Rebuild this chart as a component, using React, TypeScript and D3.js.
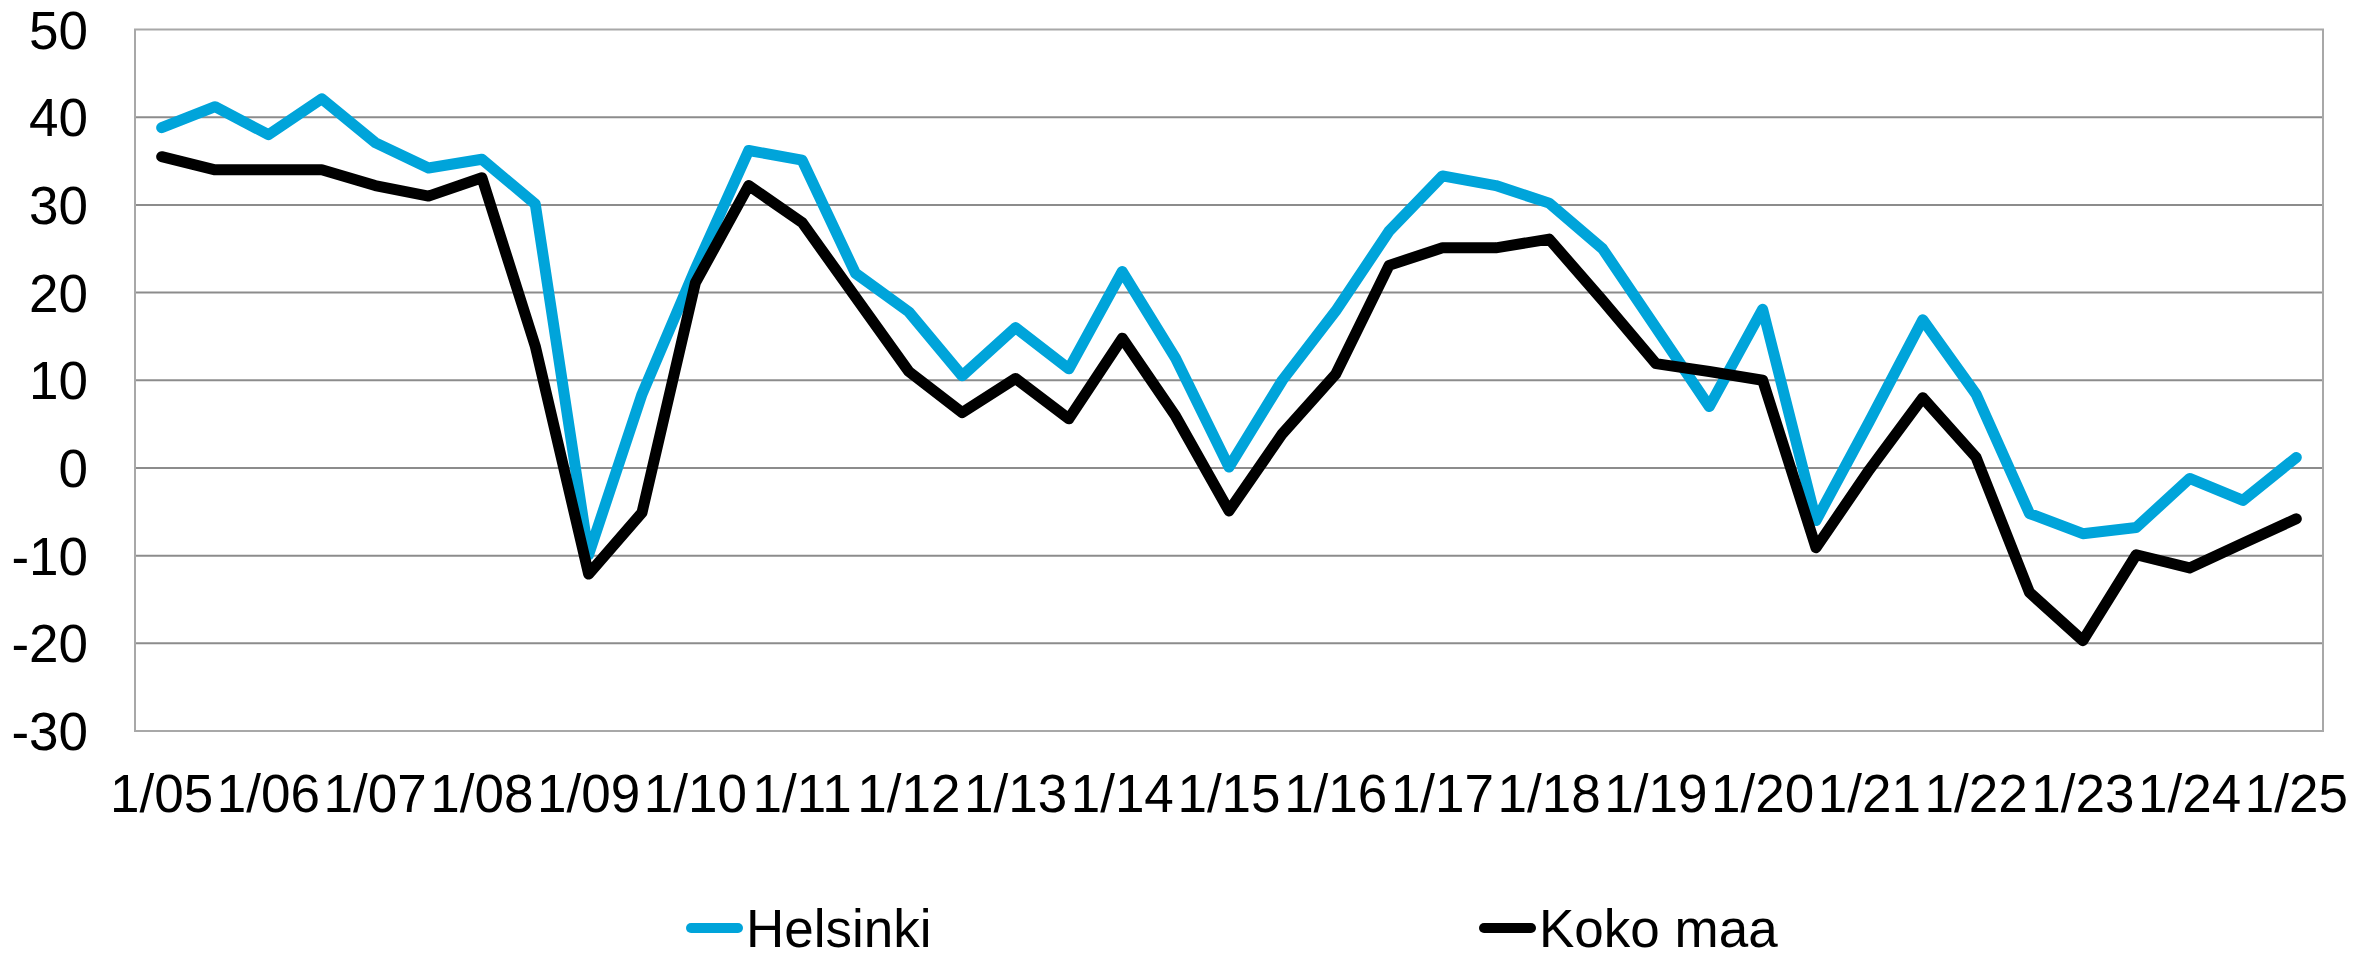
import * as d3 from 'd3'

const periods = [
  '1/05', '7/05', '1/06', '7/06', '1/07', '7/07', '1/08', '7/08', '1/09', '7/09',
  '1/10', '7/10', '1/11', '7/11', '1/12', '7/12', '1/13', '7/13', '1/14', '7/14',
  '1/15', '7/15', '1/16', '7/16', '1/17', '7/17', '1/18', '7/18', '1/19', '7/19',
  '1/20', '7/20', '1/21', '7/21', '1/22', '7/22', '1/23', '7/23', '1/24', '7/24',
  '1/25',
]

const helsinki = [
  38.8, 41.2, 38.0, 42.1, 37.1, 34.2, 35.2, 30.1, -9.9, 8.4,
  22.7, 36.2, 35.1, 22.2, 17.8, 10.5, 16.0, 11.3, 22.4, 12.5,
  0.1, 10.0, 17.9, 27.0, 33.3, 32.2, 30.2, 25.0, 16.0, 7.0,
  18.1, -6.0, 5.3, 16.9, 8.4, -5.2, -7.5, -6.8, -1.2, -3.7,
  1.2,
]

const kokoMaa = [
  35.5, 34.0, 34.0, 34.0, 32.2, 31.0, 33.1, 13.9, -12.1, -5.1,
  21.1, 32.2, 28.0, 19.5, 11.0, 6.3, 10.2, 5.6, 14.8, 5.9,
  -4.9, 3.9, 10.7, 23.1, 25.1, 25.1, 26.1, 19.1, 11.9, 11.0,
  10.0, -9.1, -0.2, 8.0, 1.2, -14.2, -19.7, -9.9, -11.4, -8.6,
  -5.8,
]

const tickLabels = periods.filter((p) => p.startsWith('1/'))
const yTicks = [-30, -20, -10, 0, 10, 20, 30, 40, 50]

const series = [
  { name: 'Helsinki', values: helsinki, color: '#00a4da' },
  { name: 'Koko maa', values: kokoMaa, color: '#000000' },
]

const W = 2379
const H = 954
const FONT = '"Liberation Sans", Arial, sans-serif'

export default function App() {
  const left = 135
  const right = 2323
  const top = 29.5
  const bottom = 731

  const x = d3.scalePoint<string>().domain(periods).range([left, right]).padding(0.5)
  const y = d3.scaleLinear().domain([-30, 50]).range([bottom, top])

  const line = d3
    .line<number>()
    .x((_, i) => x(periods[i]) as number)
    .y((d) => y(d))

  const legendPos = [686, 1479]

  return (
    <div style={{ position: 'absolute', left: 0, top: 0 }}>
      <svg width={W} height={H} style={{ display: 'block', background: '#fff' }}>
        {yTicks.slice(1, -1).map((t) => (
          <line key={t} x1={left} x2={right} y1={y(t)} y2={y(t)} stroke="#8c8c8c" strokeWidth={2} />
        ))}
        <rect x={left} y={top} width={right - left} height={bottom - top} fill="none" stroke="#a8a8a8" strokeWidth={2} />
        {yTicks.map((t) => (
          <text
            key={t}
            x={88}
            y={y(t)}
            dy="0.36em"
            textAnchor="end"
            fontFamily={FONT}
            fontSize={53}
            fill="#000"
          >
            {t}
          </text>
        ))}
        {tickLabels.map((l) => (
          <text key={l} x={x(l)} y={812} textAnchor="middle" fontFamily={FONT} fontSize={53} fill="#000">
            {l}
          </text>
        ))}
        {series.map((s) => (
          <path
            key={s.name}
            d={line(s.values) || ''}
            fill="none"
            stroke={s.color}
            strokeWidth={11}
            strokeLinejoin="round"
            strokeLinecap="round"
          />
        ))}
        {series.map((s, i) => (
          <g key={s.name} transform={`translate(${legendPos[i]},928)`}>
            <line x1={5} x2={52} y1={0} y2={0} stroke={s.color} strokeWidth={10} strokeLinecap="round" />
            <text x={60} y={0} dy="0.36em" fontFamily={FONT} fontSize={53} fill="#000">
              {s.name}
            </text>
          </g>
        ))}
      </svg>
    </div>
  )
}
